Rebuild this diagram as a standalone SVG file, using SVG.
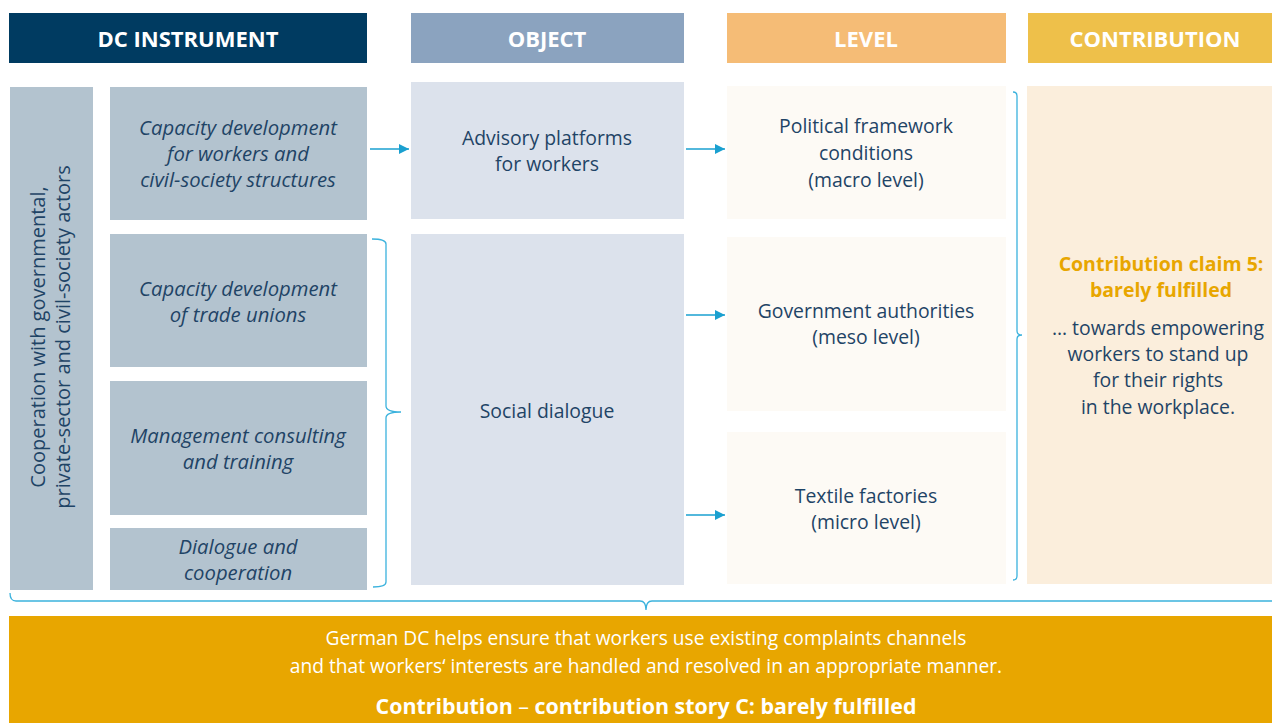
<svg xmlns="http://www.w3.org/2000/svg" width="1272" height="723" viewBox="0 0 1272 723">
<style>
text{font-family:"Open Sans","Noto Sans","Liberation Sans",sans-serif;text-anchor:middle}
.hd{font-size:22px;font-weight:bold;fill:#fff}
.it{font-size:20.3px;font-style:italic;fill:#1F4466}
.tx{font-size:19.4px;fill:#1F4466}
.vt{font-size:20px;fill:#1F4466}
.or{font-size:19.5px;font-weight:bold;fill:#E8A600}
.bn{font-size:19.2px;fill:#fff}
.bb{font-size:21.4px;font-weight:bold;fill:#fff}
.inst{fill:#B3C3CF}
.obj{fill:#DCE2EC}
.lvl{fill:#FDFAF5}
.con{stroke:#1AA0D0;stroke-width:1.6;fill:none}
.br{fill:none;stroke:#3BB2DD;stroke-width:1.3}
</style>
<defs>
<marker id="ah" viewBox="0 0 10 10" refX="10" refY="5" markerWidth="10" markerHeight="10" markerUnits="userSpaceOnUse" orient="auto">
<path d="M0,0 L10,5 L0,10 z" fill="#1AA0D0"/>
</marker>
</defs>
<rect width="1272" height="723" fill="#fff"/>

<g id="header-instrument"><rect x="9" y="13" width="358" height="50" fill="#003B61"/><text class="hd" x="188" y="47">DC INSTRUMENT</text></g>
<g id="header-object"><rect x="411" y="13" width="273" height="50" fill="#8BA3BF"/><text class="hd" x="547" y="47">OBJECT</text></g>
<g id="header-level"><rect x="727" y="13" width="279" height="50" fill="#F5BC76"/><text class="hd" x="866" y="47">LEVEL</text></g>
<g id="header-contribution"><rect x="1028" y="13" width="244" height="50" fill="#EEC04A"/><text class="hd" x="1155" y="47">CONTRIBUTION</text></g>

<g id="cooperation"><rect class="inst" x="10" y="87" width="83" height="503"/>
<text class="vt" transform="translate(45,337) rotate(-90)"><tspan x="0" y="0">Cooperation with governmental,</tspan><tspan x="0" y="25">private-sector and civil-society actors</tspan></text></g>

<g id="inst-1"><rect class="inst" x="110" y="87" width="257" height="133"/>
<text class="it"><tspan x="238" y="135">Capacity development</tspan><tspan x="238" y="161">for workers and</tspan><tspan x="238" y="187">civil-society structures</tspan></text></g>
<g id="inst-2"><rect class="inst" x="110" y="234" width="257" height="133"/>
<text class="it"><tspan x="238" y="296">Capacity development</tspan><tspan x="238" y="322">of trade unions</tspan></text></g>
<g id="inst-3"><rect class="inst" x="110" y="381" width="257" height="134"/>
<text class="it"><tspan x="238" y="443">Management consulting</tspan><tspan x="238" y="469">and training</tspan></text></g>
<g id="inst-4"><rect class="inst" x="110" y="528" width="257" height="62"/>
<text class="it"><tspan x="238" y="554">Dialogue and</tspan><tspan x="238" y="580">cooperation</tspan></text></g>

<g id="obj-advisory"><rect class="obj" x="411" y="82" width="273" height="137"/>
<text class="tx"><tspan x="547" y="145">Advisory platforms</tspan><tspan x="547" y="171">for workers</tspan></text></g>
<g id="obj-social"><rect class="obj" x="411" y="234" width="273" height="351"/>
<text class="tx" x="547" y="418">Social dialogue</text></g>

<g id="lvl-macro"><rect class="lvl" x="727" y="86" width="279" height="133"/>
<text class="tx"><tspan x="866" y="133">Political framework</tspan><tspan x="866" y="160">conditions</tspan><tspan x="866" y="187">(macro level)</tspan></text></g>
<g id="lvl-meso"><rect class="lvl" x="727" y="237" width="279" height="174"/>
<text class="tx"><tspan x="866" y="318">Government authorities</tspan><tspan x="866" y="344">(meso level)</tspan></text></g>
<g id="lvl-micro"><rect class="lvl" x="727" y="432" width="279" height="152"/>
<text class="tx"><tspan x="866" y="503">Textile factories</tspan><tspan x="866" y="529">(micro level)</tspan></text></g>

<g id="contribution-claim"><rect x="1027" y="86" width="245" height="498" fill="#FBEEDC"/>
<text class="or"><tspan x="1161" y="271">Contribution claim 5:</tspan><tspan x="1161" y="297">barely fulfilled</tspan></text>
<text class="tx"><tspan x="1158" y="335">… towards empowering</tspan><tspan x="1158" y="361">workers to stand up</tspan><tspan x="1158" y="387">for their rights</tspan><tspan x="1158" y="414">in the workplace.</tspan></text></g>

<g id="story-banner"><rect x="9" y="616" width="1263" height="107" fill="#E8A600"/>
<text class="bn"><tspan x="646" y="645">German DC helps ensure that workers use existing complaints channels</tspan><tspan x="646" y="673">and that workers‘ interests are handled and resolved in an appropriate manner.</tspan></text>
<text class="bb" x="646" y="714">Contribution <tspan font-weight="normal">–</tspan> contribution story C: barely fulfilled</text></g>

<g id="connectors">
<line class="con" x1="370" y1="149" x2="409" y2="149" marker-end="url(#ah)"/>
<line class="con" x1="686" y1="149" x2="725" y2="149" marker-end="url(#ah)"/>
<line class="con" x1="686" y1="315" x2="725" y2="315" marker-end="url(#ah)"/>
<line class="con" x1="686" y1="515" x2="725" y2="515" marker-end="url(#ah)"/>
<path class="br" d="M372,239 Q386,239 386,244 L386,406 Q386,412 401,412 Q386,412 386,418 L386,582 Q386,587 373,587"/>
<path class="br" d="M1013,92 Q1017,92 1017,96 L1017,331 Q1017,335 1022,335 Q1017,335 1017,339 L1017,576 Q1017,580 1013,580"/>
<path class="br" d="M10,593 Q10,601 16,601 L640,601 Q646,601 646,610 Q646,601 652,601 L1272,601"/>
</g>
</svg>
